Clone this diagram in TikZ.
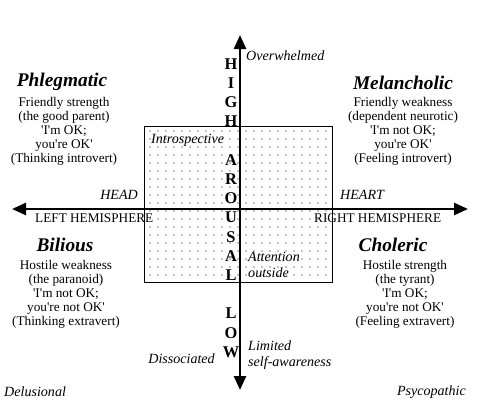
\documentclass[tikz,border=0pt]{standalone}
\usepackage{fontspec}
\setmainfont{Liberation Serif}
\usetikzlibrary{arrows.meta}
\newcommand{\ap}{\textquotesingle}

\begin{document}
\begin{tikzpicture}[x=0.03cm, y=-0.03cm,
  body/.style={align=center, inner sep=0pt, font=\fontsize{11.3}{12}\selectfont},
  temper/.style={inner sep=0pt, font=\fontsize{16.5}{18}\selectfont\bfseries\itshape},
  cue/.style={inner sep=0pt, align=left, font=\fontsize{12}{13}\selectfont\itshape},
  axis/.style={line width=2.2pt, {Triangle[length=4.2mm,width=3.6mm]}-{Triangle[length=4.2mm,width=3.6mm]}}]
  \useasboundingbox (0,0) rectangle (495,414);
  % dotted field
  \node[draw, line width=0.8pt, minimum width=5.64cm, minimum height=4.68cm, anchor=north west] (field) at (144,126) {};
  \foreach \i in {0,...,22}
    \foreach \j in {0,...,18}
      \fill (150+8*\i,131+8*\j) circle (0.55pt);
  % axes
  \coordinate (north) at (240,35);
  \coordinate (south) at (240,390);
  \coordinate (west) at (12,209);
  \coordinate (east) at (468,209);
  \draw[axis] (south) -- (north);
  \draw[axis] (west) -- (east);
  \node[align=center, inner sep=0pt, font=\fontsize{14}{16.4}\selectfont\bfseries] (arousal) at (231,208)
    {H\\I\\G\\H\\[16.4pt]A\\R\\O\\U\\S\\A\\L\\[16.4pt]L\\O\\W};
  % temperaments
  \node[temper] (phleg) at (62,82) {Phlegmatic};
  \node[body] (phlegtxt) at (64,131) {Friendly strength\\(the good parent)\\\ap I\ap m OK;\\you\ap re OK\ap\\(Thinking introvert)};
  \node[temper] (melan) at (403,83) {Melancholic};
  \node[body] (melantxt) at (403,131) {Friendly weakness\\(dependent neurotic)\\\ap I\ap m not OK;\\you\ap re OK\ap\\(Feeling introvert)};
  \node[temper] (bili) at (65,245) {Bilious};
  \node[body] (bilitxt) at (66,294) {Hostile weakness\\(the paranoid)\\\ap I\ap m not OK;\\you\ap re not OK\ap\\(Thinking extravert)};
  \node[temper] (chol) at (393,245) {Choleric};
  \node[body] (choltxt) at (405,294) {Hostile strength\\(the tyrant)\\\ap I\ap m OK;\\you\ap re not OK\ap\\(Feeling extravert)};
  % axis labels
  \node[cue, anchor=east] (head) at (138,195) {HEAD};
  \node[body, anchor=west] (lefthemi) at (35,218) {LEFT HEMISPHERE};
  \node[cue, anchor=west] (heart) at (340,195) {HEART};
  \node[body, anchor=west] (righthemi) at (314,218) {RIGHT HEMISPHERE};
  \node[cue, anchor=west] (intro) at (151,140) {Introspective};
  \node[cue, anchor=west] (attn) at (248,265) {Attention\\outside};
  \node[cue, anchor=west] (over) at (246,56) {Overwhelmed};
  \node[cue, anchor=east] (disso) at (215,359) {Dissociated};
  \node[cue, anchor=west] (limit) at (248,355) {Limited\\self-awareness};
  \node[cue, anchor=west] (delu) at (4,392) {Delusional};
  \node[cue, anchor=east] (psyco) at (466,392) {Psycopathic};
\end{tikzpicture}
\end{document}
